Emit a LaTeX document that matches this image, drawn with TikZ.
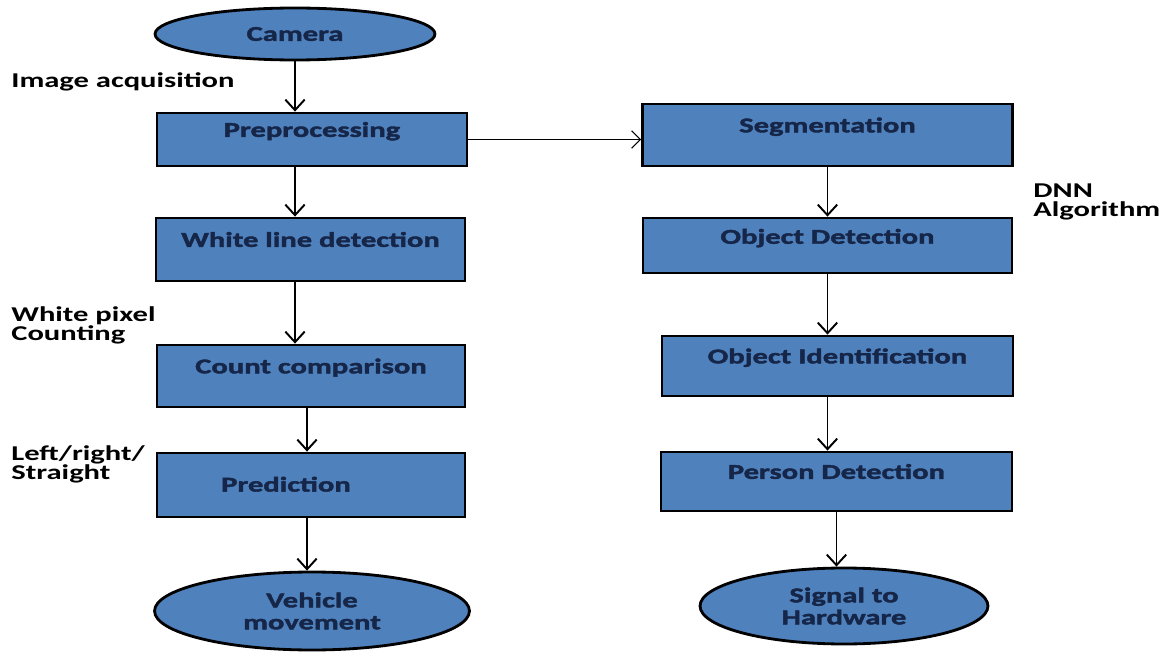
\documentclass[tikz,border=0pt]{standalone}
\usepackage{fontspec}
\setmainfont{Carlito}
\newfontfamily\lblfont{Carlito}[FakeStretch=1.45]
\newfontfamily\boxfont{Carlito}[FakeStretch=1.45,BoldFeatures={FakeBold=2}]
\usepackage{tikz}
\usetikzlibrary{shapes,arrows,positioning,calc,arrows.meta}
\definecolor{flowblue}{RGB}{79,129,189}
\definecolor{flowtext}{RGB}{22,38,72}

\begin{document}
\begin{tikzpicture}[x=0.02cm, y=-0.02cm,
    box/.style={draw, rectangle, line width=1.6pt, fill=flowblue, text=flowtext, font=\boxfont\bfseries\fontsize{12}{12.5}\selectfont, inner sep=0pt, text height=8.5pt, text depth=11.5pt},
    term/.style={draw, ellipse, line width=1.6pt, fill=flowblue, text=flowtext, font=\boxfont\bfseries\fontsize{12}{12.5}\selectfont, align=center, inner sep=0pt},
    note/.style={anchor=west, align=left, inner sep=0pt, font=\lblfont\bfseries\fontsize{12}{10.8}\selectfont},
    flow/.style={line width=1.1pt, -{Straight Barb[length=6pt,width=11pt]}},
    thinflow/.style={line width=0.6pt, -{Straight Barb[length=5pt,width=10pt]}}
]
    \useasboundingbox (0,0) rectangle (1164,652);

    % Left column
    \node [term, minimum width=5.6cm, minimum height=1.04cm] (camera) at (295,34) {Camera};
    \node [box, minimum width=6.2cm, minimum height=1.06cm] (prep) at (312,139.5) {Preprocessing};
    \node [box, minimum width=6.18cm, minimum height=1.26cm] (white) at (310.5,249.5) {White line detection};
    \node [box, minimum width=6.16cm, minimum height=1.24cm] (count) at (311,376) {Count comparison};
    \node [box, minimum width=6.16cm, minimum height=1.28cm, text depth=1pt] (predict) at (311,485) {\hspace*{-1cm}Prediction};
    \node [term, minimum width=6.3cm, minimum height=1.56cm] (vehicle) at (312,611) {Vehicle\\movement};

    % Right column
    \node [box, minimum width=7.4cm, minimum height=1.24cm] (segment) at (827.5,135) {Segmentation};
    \node [box, minimum width=7.38cm, minimum height=1.1cm, text depth=10.5pt] (objdet) at (827.5,245.5) {Object Detection};
    \node [box, minimum width=7.02cm, minimum height=1.2cm] (objid) at (837.5,366) {Object Identification};
    \node [box, minimum width=7.02cm, minimum height=1.18cm] (person) at (836.5,481.5) {Person Detection};
    \node [term, minimum width=5.76cm, minimum height=1.52cm] (signal) at (844,606) {Signal to\\Hardware};

    % Side notes
    \node [note] (acq) at (11,82) {Image acquisition};
    \node [note] (pixel) at (11,325.5) {White pixel\\Counting};
    \node [note] (dir) at (11,464) {Left/right/\\Straight};
    \node [note] (dnn) at (1033,202) {DNN\\Algorithm};

    % Arrows
    \draw [flow] (camera.south) -- (camera.south |- prep.north);
    \draw [flow] (prep.south -| camera.south) -- (white.north -| camera.south);
    \draw [flow] (white.south -| camera.south) -- (count.north -| camera.south);
    \draw [flow] ([xshift=-0.08cm]count.south) -- ([xshift=-0.08cm]predict.north);
    \draw [flow] ([xshift=-0.08cm]predict.south) -- ([xshift=-0.08cm]predict.south |- vehicle.north);
    \draw [thinflow] (prep.east) -- (prep.east -| segment.west);
    \draw [flow] (segment.south) -- (objdet.north);
    \draw [flow] (objdet.south) -- (objdet.south |- objid.north);
    \draw [flow] (objdet.south |- objid.south) -- (objdet.south |- person.north);
    \draw [flow] (person.south) -- (person.south |- signal.north);
\end{tikzpicture}
\end{document}
